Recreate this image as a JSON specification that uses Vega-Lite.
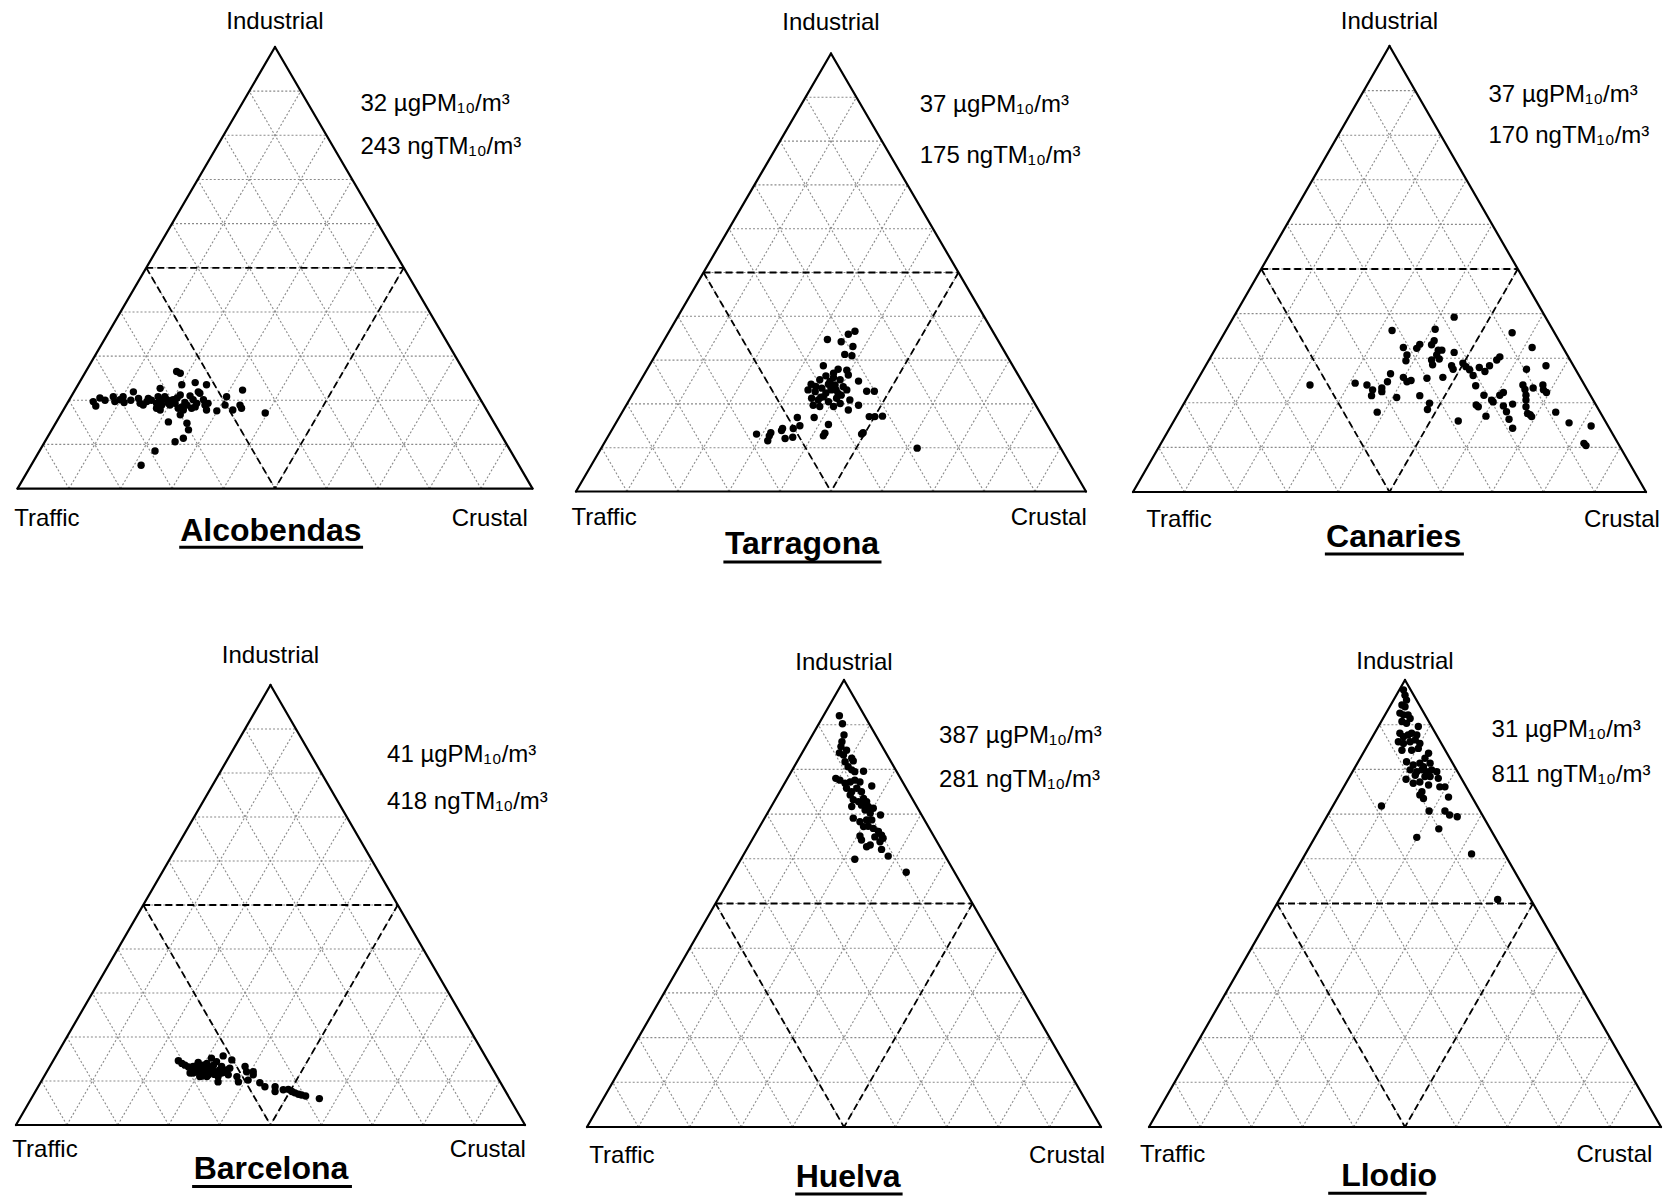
{
"$schema":"https://vega.github.io/schema/vega-lite/v6.json",
"padding":0,
"config":{"view":{"stroke":null},"font":"Liberation Sans","circle":{"size":55,"color":"black","opacity":1}},
"datasets":{
"grid":[
{"x":0.05,"y":0.1,"x2":0.95,"y2":0.1},{"x":0.1,"y":0.2,"x2":0.9,"y2":0.2},{"x":0.15,"y":0.3,"x2":0.85,"y2":0.3},{"x":0.2,"y":0.4,"x2":0.8,"y2":0.4},{"x":0.25,"y":0.5,"x2":0.75,"y2":0.5},{"x":0.3,"y":0.6,"x2":0.7,"y2":0.6},{"x":0.35,"y":0.7,"x2":0.65,"y2":0.7},{"x":0.4,"y":0.8,"x2":0.6,"y2":0.8},{"x":0.45,"y":0.9,"x2":0.55,"y2":0.9},
{"x":0.1,"y":0,"x2":0.55,"y2":0.9},{"x":0.2,"y":0,"x2":0.6,"y2":0.8},{"x":0.3,"y":0,"x2":0.65,"y2":0.7},{"x":0.4,"y":0,"x2":0.7,"y2":0.6},{"x":0.5,"y":0,"x2":0.75,"y2":0.5},{"x":0.6,"y":0,"x2":0.8,"y2":0.4},{"x":0.7,"y":0,"x2":0.85,"y2":0.3},{"x":0.8,"y":0,"x2":0.9,"y2":0.2},{"x":0.9,"y":0,"x2":0.95,"y2":0.1},
{"x":0.1,"y":0,"x2":0.05,"y2":0.1},{"x":0.2,"y":0,"x2":0.1,"y2":0.2},{"x":0.3,"y":0,"x2":0.15,"y2":0.3},{"x":0.4,"y":0,"x2":0.2,"y2":0.4},{"x":0.5,"y":0,"x2":0.25,"y2":0.5},{"x":0.6,"y":0,"x2":0.3,"y2":0.6},{"x":0.7,"y":0,"x2":0.35,"y2":0.7},{"x":0.8,"y":0,"x2":0.4,"y2":0.8},{"x":0.9,"y":0,"x2":0.45,"y2":0.9}
],
"inner":[{"x":0.25,"y":0.5,"x2":0.75,"y2":0.5},{"x":0.25,"y":0.5,"x2":0.5,"y2":0},{"x":0.75,"y":0.5,"x2":0.5,"y2":0}],
"outer":[{"x":0,"y":0,"x2":1,"y2":0},{"x":0,"y":0,"x2":0.5,"y2":1},{"x":1,"y":0,"x2":0.5,"y2":1}],
"txt":[
{"site":"Alcobendas","kind":"corner","x":0.5,"y":1.057,"t":"Industrial"},{"site":"Alcobendas","kind":"corner","x":0.057,"y":-0.068,"t":"Traffic"},{"site":"Alcobendas","kind":"corner","x":0.917,"y":-0.068,"t":"Crustal"},
{"site":"Alcobendas","kind":"ann","x":0.666,"y":0.872,"t":"32 µgPM₁₀/m³"},{"site":"Alcobendas","kind":"ann","x":0.666,"y":0.773,"t":"243 ngTM₁₀/m³"},{"site":"Alcobendas","kind":"title","x":0.492,"y":-0.096,"t":"Alcobendas"},
{"site":"Tarragona","kind":"corner","x":0.5,"y":1.07,"t":"Industrial"},{"site":"Tarragona","kind":"corner","x":0.055,"y":-0.06,"t":"Traffic"},{"site":"Tarragona","kind":"corner","x":0.927,"y":-0.06,"t":"Crustal"},
{"site":"Tarragona","kind":"ann","x":0.674,"y":0.883,"t":"37 µgPM₁₀/m³"},{"site":"Tarragona","kind":"ann","x":0.674,"y":0.767,"t":"175 ngTM₁₀/m³"},{"site":"Tarragona","kind":"title","x":0.443,"y":-0.12,"t":"Tarragona"},
{"site":"Canaries","kind":"corner","x":0.5,"y":1.053,"t":"Industrial"},{"site":"Canaries","kind":"corner","x":0.0897,"y":-0.062,"t":"Traffic"},{"site":"Canaries","kind":"corner","x":0.953,"y":-0.062,"t":"Crustal"},
{"site":"Canaries","kind":"ann","x":0.693,"y":0.89,"t":"37 µgPM₁₀/m³"},{"site":"Canaries","kind":"ann","x":0.693,"y":0.799,"t":"170 ngTM₁₀/m³"},{"site":"Canaries","kind":"title","x":0.508,"y":-0.1,"t":"Canaries"},
{"site":"Barcelona","kind":"corner","x":0.5,"y":1.066,"t":"Industrial"},{"site":"Barcelona","kind":"corner","x":0.057,"y":-0.057,"t":"Traffic"},{"site":"Barcelona","kind":"corner","x":0.927,"y":-0.057,"t":"Crustal"},
{"site":"Barcelona","kind":"ann","x":0.729,"y":0.842,"t":"41 µgPM₁₀/m³"},{"site":"Barcelona","kind":"ann","x":0.729,"y":0.734,"t":"418 ngTM₁₀/m³"},{"site":"Barcelona","kind":"title","x":0.501,"y":-0.101,"t":"Barcelona"},
{"site":"Huelva","kind":"corner","x":0.5,"y":1.039,"t":"Industrial"},{"site":"Huelva","kind":"corner","x":0.068,"y":-0.064,"t":"Traffic"},{"site":"Huelva","kind":"corner","x":0.934,"y":-0.064,"t":"Crustal"},
{"site":"Huelva","kind":"ann","x":0.685,"y":0.874,"t":"387 µgPM₁₀/m³"},{"site":"Huelva","kind":"ann","x":0.685,"y":0.776,"t":"281 ngTM₁₀/m³"},{"site":"Huelva","kind":"title","x":0.508,"y":-0.112,"t":"Huelva"},
{"site":"Llodio","kind":"corner","x":0.5,"y":1.04,"t":"Industrial"},{"site":"Llodio","kind":"corner","x":0.046,"y":-0.062,"t":"Traffic"},{"site":"Llodio","kind":"corner","x":0.909,"y":-0.062,"t":"Crustal"},
{"site":"Llodio","kind":"ann","x":0.669,"y":0.889,"t":"31 µgPM₁₀/m³"},{"site":"Llodio","kind":"ann","x":0.669,"y":0.788,"t":"811 ngTM₁₀/m³"},{"site":"Llodio","kind":"title","x":0.469,"y":-0.11,"t":"Llodio"}
],
"uline":[
{"site":"Alcobendas","x":0.314,"x2":0.671,"y":-0.133},{"site":"Tarragona","x":0.289,"x2":0.599,"y":-0.161},{"site":"Canaries","x":0.374,"x2":0.645,"y":-0.139},
{"site":"Barcelona","x":0.346,"x2":0.66,"y":-0.14},{"site":"Huelva","x":0.405,"x2":0.614,"y":-0.15},{"site":"Llodio","x":0.35,"x2":0.542,"y":-0.148}
],
"pts":[
{"site":"Alcobendas","x":0.147,"y":0.197},{"site":"Alcobendas","x":0.152,"y":0.187},{"site":"Alcobendas","x":0.186,"y":0.208},{"site":"Alcobendas","x":0.189,"y":0.197},{"site":"Alcobendas","x":0.199,"y":0.201},{"site":"Alcobendas","x":0.205,"y":0.208},{"site":"Alcobendas","x":0.207,"y":0.195},{"site":"Alcobendas","x":0.225,"y":0.219},{"site":"Alcobendas","x":0.235,"y":0.204},{"site":"Alcobendas","x":0.238,"y":0.193},{"site":"Alcobendas","x":0.244,"y":0.189},{"site":"Alcobendas","x":0.251,"y":0.197},{"site":"Alcobendas","x":0.254,"y":0.204},{"site":"Alcobendas","x":0.277,"y":0.227},{"site":"Alcobendas","x":0.273,"y":0.208},{"site":"Alcobendas","x":0.27,"y":0.193},{"site":"Alcobendas","x":0.28,"y":0.189},{"site":"Alcobendas","x":0.309,"y":0.265},{"site":"Alcobendas","x":0.316,"y":0.261},{"site":"Alcobendas","x":0.319,"y":0.235},{"site":"Alcobendas","x":0.316,"y":0.212},{"site":"Alcobendas","x":0.303,"y":0.201},{"site":"Alcobendas","x":0.296,"y":0.189},{"site":"Alcobendas","x":0.293,"y":0.151},{"site":"Alcobendas","x":0.306,"y":0.106},{"site":"Alcobendas","x":0.322,"y":0.114},{"site":"Alcobendas","x":0.332,"y":0.133},{"site":"Alcobendas","x":0.329,"y":0.148},{"site":"Alcobendas","x":0.316,"y":0.167},{"site":"Alcobendas","x":0.322,"y":0.178},{"site":"Alcobendas","x":0.329,"y":0.189},{"site":"Alcobendas","x":0.338,"y":0.182},{"site":"Alcobendas","x":0.345,"y":0.185},{"site":"Alcobendas","x":0.286,"y":0.208},{"site":"Alcobendas","x":0.29,"y":0.201},{"site":"Alcobendas","x":0.293,"y":0.193},{"site":"Alcobendas","x":0.306,"y":0.193},{"site":"Alcobendas","x":0.312,"y":0.182},{"site":"Alcobendas","x":0.319,"y":0.185},{"site":"Alcobendas","x":0.345,"y":0.24},{"site":"Alcobendas","x":0.351,"y":0.219},{"site":"Alcobendas","x":0.354,"y":0.216},{"site":"Alcobendas","x":0.367,"y":0.235},{"site":"Alcobendas","x":0.361,"y":0.201},{"site":"Alcobendas","x":0.364,"y":0.189},{"site":"Alcobendas","x":0.37,"y":0.193},{"site":"Alcobendas","x":0.367,"y":0.178},{"site":"Alcobendas","x":0.387,"y":0.176},{"site":"Alcobendas","x":0.406,"y":0.208},{"site":"Alcobendas","x":0.403,"y":0.189},{"site":"Alcobendas","x":0.418,"y":0.178},{"site":"Alcobendas","x":0.435,"y":0.182},{"site":"Alcobendas","x":0.432,"y":0.189},{"site":"Alcobendas","x":0.437,"y":0.223},{"site":"Alcobendas","x":0.481,"y":0.171},{"site":"Alcobendas","x":0.267,"y":0.085},{"site":"Alcobendas","x":0.24,"y":0.053},{"site":"Alcobendas","x":0.341,"y":0.201},{"site":"Alcobendas","x":0.348,"y":0.193},{"site":"Alcobendas","x":0.27,"y":0.182},{"site":"Alcobendas","x":0.277,"y":0.178},{"site":"Alcobendas","x":0.3,"y":0.2},{"site":"Alcobendas","x":0.31,"y":0.205},{"site":"Alcobendas","x":0.325,"y":0.195},{"site":"Alcobendas","x":0.335,"y":0.21},{"site":"Alcobendas","x":0.28,"y":0.2},{"site":"Alcobendas","x":0.26,"y":0.2},{"site":"Alcobendas","x":0.22,"y":0.2},{"site":"Alcobendas","x":0.17,"y":0.2},{"site":"Alcobendas","x":0.16,"y":0.205},
{"site":"Tarragona","x":0.493,"y":0.347},{"site":"Tarragona","x":0.52,"y":0.342},{"site":"Tarragona","x":0.534,"y":0.359},{"site":"Tarragona","x":0.547,"y":0.366},{"site":"Tarragona","x":0.543,"y":0.331},{"site":"Tarragona","x":0.527,"y":0.313},{"site":"Tarragona","x":0.541,"y":0.31},{"site":"Tarragona","x":0.485,"y":0.287},{"site":"Tarragona","x":0.514,"y":0.279},{"site":"Tarragona","x":0.531,"y":0.277},{"site":"Tarragona","x":0.534,"y":0.266},{"site":"Tarragona","x":0.554,"y":0.252},{"site":"Tarragona","x":0.461,"y":0.245},{"site":"Tarragona","x":0.478,"y":0.255},{"site":"Tarragona","x":0.49,"y":0.264},{"site":"Tarragona","x":0.505,"y":0.27},{"site":"Tarragona","x":0.498,"y":0.251},{"site":"Tarragona","x":0.508,"y":0.243},{"site":"Tarragona","x":0.518,"y":0.255},{"site":"Tarragona","x":0.524,"y":0.239},{"site":"Tarragona","x":0.531,"y":0.232},{"site":"Tarragona","x":0.455,"y":0.232},{"site":"Tarragona","x":0.469,"y":0.228},{"site":"Tarragona","x":0.482,"y":0.236},{"site":"Tarragona","x":0.501,"y":0.232},{"site":"Tarragona","x":0.514,"y":0.224},{"site":"Tarragona","x":0.511,"y":0.213},{"site":"Tarragona","x":0.518,"y":0.201},{"site":"Tarragona","x":0.462,"y":0.213},{"site":"Tarragona","x":0.475,"y":0.209},{"site":"Tarragona","x":0.485,"y":0.216},{"site":"Tarragona","x":0.495,"y":0.205},{"site":"Tarragona","x":0.505,"y":0.194},{"site":"Tarragona","x":0.534,"y":0.186},{"site":"Tarragona","x":0.554,"y":0.197},{"site":"Tarragona","x":0.57,"y":0.229},{"site":"Tarragona","x":0.585,"y":0.229},{"site":"Tarragona","x":0.465,"y":0.197},{"site":"Tarragona","x":0.478,"y":0.194},{"site":"Tarragona","x":0.537,"y":0.209},{"site":"Tarragona","x":0.467,"y":0.169},{"site":"Tarragona","x":0.495,"y":0.153},{"site":"Tarragona","x":0.488,"y":0.133},{"site":"Tarragona","x":0.485,"y":0.127},{"site":"Tarragona","x":0.434,"y":0.169},{"site":"Tarragona","x":0.439,"y":0.15},{"site":"Tarragona","x":0.426,"y":0.144},{"site":"Tarragona","x":0.405,"y":0.144},{"site":"Tarragona","x":0.403,"y":0.139},{"site":"Tarragona","x":0.41,"y":0.121},{"site":"Tarragona","x":0.425,"y":0.124},{"site":"Tarragona","x":0.382,"y":0.134},{"site":"Tarragona","x":0.379,"y":0.127},{"site":"Tarragona","x":0.376,"y":0.116},{"site":"Tarragona","x":0.354,"y":0.131},{"site":"Tarragona","x":0.575,"y":0.171},{"site":"Tarragona","x":0.586,"y":0.171},{"site":"Tarragona","x":0.601,"y":0.172},{"site":"Tarragona","x":0.563,"y":0.134},{"site":"Tarragona","x":0.56,"y":0.131},{"site":"Tarragona","x":0.669,"y":0.099},{"site":"Tarragona","x":0.5,"y":0.235},{"site":"Tarragona","x":0.49,"y":0.225},{"site":"Tarragona","x":0.52,"y":0.22},{"site":"Tarragona","x":0.505,"y":0.26},{"site":"Tarragona","x":0.47,"y":0.24},{"site":"Tarragona","x":0.495,"y":0.245},{"site":"Tarragona","x":0.51,"y":0.232},{"site":"Tarragona","x":0.48,"y":0.215},
{"site":"Canaries","x":0.345,"y":0.24},{"site":"Canaries","x":0.433,"y":0.244},{"site":"Canaries","x":0.456,"y":0.24},{"site":"Canaries","x":0.467,"y":0.229},{"site":"Canaries","x":0.465,"y":0.216},{"site":"Canaries","x":0.485,"y":0.233},{"site":"Canaries","x":0.485,"y":0.225},{"site":"Canaries","x":0.496,"y":0.247},{"site":"Canaries","x":0.502,"y":0.265},{"site":"Canaries","x":0.514,"y":0.212},{"site":"Canaries","x":0.476,"y":0.179},{"site":"Canaries","x":0.505,"y":0.362},{"site":"Canaries","x":0.527,"y":0.324},{"site":"Canaries","x":0.534,"y":0.307},{"site":"Canaries","x":0.532,"y":0.294},{"site":"Canaries","x":0.527,"y":0.257},{"site":"Canaries","x":0.534,"y":0.247},{"site":"Canaries","x":0.542,"y":0.25},{"site":"Canaries","x":0.553,"y":0.322},{"site":"Canaries","x":0.559,"y":0.331},{"site":"Canaries","x":0.582,"y":0.33},{"site":"Canaries","x":0.587,"y":0.339},{"site":"Canaries","x":0.589,"y":0.365},{"site":"Canaries","x":0.595,"y":0.318},{"site":"Canaries","x":0.602,"y":0.318},{"site":"Canaries","x":0.592,"y":0.307},{"site":"Canaries","x":0.582,"y":0.296},{"site":"Canaries","x":0.584,"y":0.285},{"site":"Canaries","x":0.597,"y":0.298},{"site":"Canaries","x":0.573,"y":0.255},{"site":"Canaries","x":0.559,"y":0.216},{"site":"Canaries","x":0.578,"y":0.199},{"site":"Canaries","x":0.574,"y":0.185},{"site":"Canaries","x":0.604,"y":0.257},{"site":"Canaries","x":0.626,"y":0.392},{"site":"Canaries","x":0.626,"y":0.313},{"site":"Canaries","x":0.621,"y":0.283},{"site":"Canaries","x":0.624,"y":0.275},{"site":"Canaries","x":0.634,"y":0.159},{"site":"Canaries","x":0.643,"y":0.289},{"site":"Canaries","x":0.649,"y":0.281},{"site":"Canaries","x":0.656,"y":0.274},{"site":"Canaries","x":0.663,"y":0.261},{"site":"Canaries","x":0.668,"y":0.238},{"site":"Canaries","x":0.675,"y":0.279},{"site":"Canaries","x":0.686,"y":0.27},{"site":"Canaries","x":0.695,"y":0.283},{"site":"Canaries","x":0.709,"y":0.296},{"site":"Canaries","x":0.715,"y":0.303},{"site":"Canaries","x":0.684,"y":0.217},{"site":"Canaries","x":0.669,"y":0.195},{"site":"Canaries","x":0.673,"y":0.191},{"site":"Canaries","x":0.688,"y":0.17},{"site":"Canaries","x":0.699,"y":0.206},{"site":"Canaries","x":0.702,"y":0.202},{"site":"Canaries","x":0.715,"y":0.217},{"site":"Canaries","x":0.722,"y":0.223},{"site":"Canaries","x":0.722,"y":0.193},{"site":"Canaries","x":0.728,"y":0.18},{"site":"Canaries","x":0.733,"y":0.163},{"site":"Canaries","x":0.74,"y":0.143},{"site":"Canaries","x":0.74,"y":0.197},{"site":"Canaries","x":0.739,"y":0.357},{"site":"Canaries","x":0.778,"y":0.324},{"site":"Canaries","x":0.767,"y":0.275},{"site":"Canaries","x":0.805,"y":0.283},{"site":"Canaries","x":0.76,"y":0.24},{"site":"Canaries","x":0.764,"y":0.23},{"site":"Canaries","x":0.766,"y":0.217},{"site":"Canaries","x":0.766,"y":0.206},{"site":"Canaries","x":0.766,"y":0.191},{"site":"Canaries","x":0.769,"y":0.176},{"site":"Canaries","x":0.774,"y":0.173},{"site":"Canaries","x":0.777,"y":0.169},{"site":"Canaries","x":0.78,"y":0.233},{"site":"Canaries","x":0.799,"y":0.24},{"site":"Canaries","x":0.8,"y":0.229},{"site":"Canaries","x":0.806,"y":0.223},{"site":"Canaries","x":0.824,"y":0.179},{"site":"Canaries","x":0.85,"y":0.155},{"site":"Canaries","x":0.893,"y":0.148},{"site":"Canaries","x":0.879,"y":0.109},{"site":"Canaries","x":0.883,"y":0.104},
{"site":"Barcelona","x":0.319,"y":0.146},{"site":"Barcelona","x":0.326,"y":0.14},{"site":"Barcelona","x":0.332,"y":0.136},{"site":"Barcelona","x":0.339,"y":0.132},{"site":"Barcelona","x":0.345,"y":0.125},{"site":"Barcelona","x":0.348,"y":0.118},{"site":"Barcelona","x":0.355,"y":0.121},{"site":"Barcelona","x":0.361,"y":0.129},{"site":"Barcelona","x":0.358,"y":0.142},{"site":"Barcelona","x":0.368,"y":0.136},{"site":"Barcelona","x":0.371,"y":0.121},{"site":"Barcelona","x":0.365,"y":0.111},{"site":"Barcelona","x":0.378,"y":0.114},{"site":"Barcelona","x":0.381,"y":0.129},{"site":"Barcelona","x":0.384,"y":0.152},{"site":"Barcelona","x":0.388,"y":0.136},{"site":"Barcelona","x":0.391,"y":0.121},{"site":"Barcelona","x":0.397,"y":0.11},{"site":"Barcelona","x":0.397,"y":0.098},{"site":"Barcelona","x":0.404,"y":0.118},{"site":"Barcelona","x":0.407,"y":0.157},{"site":"Barcelona","x":0.404,"y":0.133},{"site":"Barcelona","x":0.414,"y":0.125},{"site":"Barcelona","x":0.417,"y":0.114},{"site":"Barcelona","x":0.424,"y":0.148},{"site":"Barcelona","x":0.42,"y":0.129},{"site":"Barcelona","x":0.375,"y":0.11},{"site":"Barcelona","x":0.348,"y":0.133},{"site":"Barcelona","x":0.342,"y":0.118},{"site":"Barcelona","x":0.361,"y":0.11},{"site":"Barcelona","x":0.394,"y":0.144},{"site":"Barcelona","x":0.434,"y":0.11},{"site":"Barcelona","x":0.437,"y":0.098},{"site":"Barcelona","x":0.45,"y":0.133},{"site":"Barcelona","x":0.453,"y":0.121},{"site":"Barcelona","x":0.456,"y":0.102},{"site":"Barcelona","x":0.466,"y":0.114},{"site":"Barcelona","x":0.466,"y":0.121},{"site":"Barcelona","x":0.479,"y":0.096},{"site":"Barcelona","x":0.489,"y":0.087},{"site":"Barcelona","x":0.509,"y":0.087},{"site":"Barcelona","x":0.509,"y":0.076},{"site":"Barcelona","x":0.525,"y":0.08},{"site":"Barcelona","x":0.535,"y":0.081},{"site":"Barcelona","x":0.542,"y":0.076},{"site":"Barcelona","x":0.548,"y":0.073},{"site":"Barcelona","x":0.555,"y":0.07},{"site":"Barcelona","x":0.561,"y":0.068},{"site":"Barcelona","x":0.569,"y":0.066},{"site":"Barcelona","x":0.596,"y":0.06},{"site":"Barcelona","x":0.35,"y":0.13},{"site":"Barcelona","x":0.37,"y":0.13},{"site":"Barcelona","x":0.385,"y":0.125},{"site":"Barcelona","x":0.4,"y":0.125},{"site":"Barcelona","x":0.36,"y":0.12},{"site":"Barcelona","x":0.375,"y":0.14},{"site":"Barcelona","x":0.39,"y":0.115},{"site":"Barcelona","x":0.41,"y":0.12},{"site":"Barcelona","x":0.355,"y":0.135},{"site":"Barcelona","x":0.38,"y":0.118},
{"site":"Huelva","x":0.491,"y":0.92},{"site":"Huelva","x":0.497,"y":0.902},{"site":"Huelva","x":0.5,"y":0.877},{"site":"Huelva","x":0.496,"y":0.862},{"site":"Huelva","x":0.494,"y":0.851},{"site":"Huelva","x":0.491,"y":0.837},{"site":"Huelva","x":0.499,"y":0.832},{"site":"Huelva","x":0.505,"y":0.843},{"site":"Huelva","x":0.502,"y":0.817},{"site":"Huelva","x":0.515,"y":0.825},{"site":"Huelva","x":0.518,"y":0.819},{"site":"Huelva","x":0.508,"y":0.806},{"site":"Huelva","x":0.515,"y":0.799},{"site":"Huelva","x":0.521,"y":0.795},{"site":"Huelva","x":0.538,"y":0.796},{"site":"Huelva","x":0.484,"y":0.78},{"site":"Huelva","x":0.492,"y":0.776},{"site":"Huelva","x":0.502,"y":0.769},{"site":"Huelva","x":0.512,"y":0.772},{"site":"Huelva","x":0.521,"y":0.776},{"site":"Huelva","x":0.531,"y":0.772},{"site":"Huelva","x":0.554,"y":0.763},{"site":"Huelva","x":0.505,"y":0.758},{"site":"Huelva","x":0.515,"y":0.75},{"site":"Huelva","x":0.525,"y":0.758},{"site":"Huelva","x":0.512,"y":0.743},{"site":"Huelva","x":0.534,"y":0.75},{"site":"Huelva","x":0.538,"y":0.735},{"site":"Huelva","x":0.518,"y":0.732},{"site":"Huelva","x":0.528,"y":0.728},{"site":"Huelva","x":0.544,"y":0.728},{"site":"Huelva","x":0.534,"y":0.72},{"site":"Huelva","x":0.547,"y":0.717},{"site":"Huelva","x":0.515,"y":0.717},{"site":"Huelva","x":0.557,"y":0.713},{"site":"Huelva","x":0.541,"y":0.709},{"site":"Huelva","x":0.551,"y":0.702},{"site":"Huelva","x":0.571,"y":0.698},{"site":"Huelva","x":0.518,"y":0.691},{"site":"Huelva","x":0.531,"y":0.683},{"site":"Huelva","x":0.544,"y":0.687},{"site":"Huelva","x":0.554,"y":0.687},{"site":"Huelva","x":0.547,"y":0.673},{"site":"Huelva","x":0.557,"y":0.668},{"site":"Huelva","x":0.538,"y":0.672},{"site":"Huelva","x":0.531,"y":0.651},{"site":"Huelva","x":0.534,"y":0.642},{"site":"Huelva","x":0.544,"y":0.627},{"site":"Huelva","x":0.551,"y":0.631},{"site":"Huelva","x":0.56,"y":0.649},{"site":"Huelva","x":0.567,"y":0.661},{"site":"Huelva","x":0.573,"y":0.653},{"site":"Huelva","x":0.576,"y":0.646},{"site":"Huelva","x":0.57,"y":0.638},{"site":"Huelva","x":0.573,"y":0.621},{"site":"Huelva","x":0.586,"y":0.606},{"site":"Huelva","x":0.521,"y":0.599},{"site":"Huelva","x":0.621,"y":0.57},
{"site":"Llodio","x":0.497,"y":0.978},{"site":"Llodio","x":0.5,"y":0.966},{"site":"Llodio","x":0.503,"y":0.955},{"site":"Llodio","x":0.494,"y":0.944},{"site":"Llodio","x":0.5,"y":0.94},{"site":"Llodio","x":0.49,"y":0.926},{"site":"Llodio","x":0.497,"y":0.922},{"site":"Llodio","x":0.506,"y":0.922},{"site":"Llodio","x":0.51,"y":0.914},{"site":"Llodio","x":0.494,"y":0.907},{"site":"Llodio","x":0.503,"y":0.903},{"site":"Llodio","x":0.526,"y":0.896},{"site":"Llodio","x":0.49,"y":0.881},{"site":"Llodio","x":0.497,"y":0.873},{"site":"Llodio","x":0.506,"y":0.877},{"site":"Llodio","x":0.513,"y":0.881},{"site":"Llodio","x":0.523,"y":0.877},{"site":"Llodio","x":0.487,"y":0.862},{"site":"Llodio","x":0.497,"y":0.858},{"site":"Llodio","x":0.51,"y":0.862},{"site":"Llodio","x":0.52,"y":0.866},{"site":"Llodio","x":0.529,"y":0.858},{"site":"Llodio","x":0.494,"y":0.843},{"site":"Llodio","x":0.513,"y":0.843},{"site":"Llodio","x":0.526,"y":0.847},{"site":"Llodio","x":0.546,"y":0.836},{"site":"Llodio","x":0.539,"y":0.825},{"site":"Llodio","x":0.503,"y":0.817},{"site":"Llodio","x":0.516,"y":0.81},{"site":"Llodio","x":0.529,"y":0.814},{"site":"Llodio","x":0.536,"y":0.806},{"site":"Llodio","x":0.549,"y":0.814},{"site":"Llodio","x":0.51,"y":0.799},{"site":"Llodio","x":0.523,"y":0.795},{"site":"Llodio","x":0.533,"y":0.799},{"site":"Llodio","x":0.542,"y":0.795},{"site":"Llodio","x":0.552,"y":0.799},{"site":"Llodio","x":0.562,"y":0.795},{"site":"Llodio","x":0.52,"y":0.787},{"site":"Llodio","x":0.539,"y":0.784},{"site":"Llodio","x":0.549,"y":0.784},{"site":"Llodio","x":0.565,"y":0.78},{"site":"Llodio","x":0.502,"y":0.778},{"site":"Llodio","x":0.516,"y":0.769},{"site":"Llodio","x":0.529,"y":0.772},{"site":"Llodio","x":0.546,"y":0.765},{"site":"Llodio","x":0.568,"y":0.761},{"site":"Llodio","x":0.578,"y":0.761},{"site":"Llodio","x":0.533,"y":0.75},{"site":"Llodio","x":0.529,"y":0.743},{"site":"Llodio","x":0.536,"y":0.735},{"site":"Llodio","x":0.585,"y":0.738},{"site":"Llodio","x":0.454,"y":0.718},{"site":"Llodio","x":0.547,"y":0.707},{"site":"Llodio","x":0.578,"y":0.707},{"site":"Llodio","x":0.587,"y":0.698},{"site":"Llodio","x":0.602,"y":0.694},{"site":"Llodio","x":0.566,"y":0.667},{"site":"Llodio","x":0.523,"y":0.648},{"site":"Llodio","x":0.63,"y":0.611},{"site":"Llodio","x":0.681,"y":0.509}
]
},
"columns":3,
"spacing":0,
"bounds":"flush",
"concat":[
{"width":558,"height":600,"layer":[
{"data":{"name":"grid"},"mark":{"type":"rule","color":"#8a8a8a","strokeWidth":1.1,"strokeDash":[2,2]},"encoding":{"x":{"field":"x","type":"quantitative","scale":{"domain":[-0.034,1.0495],"nice":false,"zero":false},"axis":null},"y":{"field":"y","type":"quantitative","scale":{"domain":[-0.2523,1.1064],"nice":false,"zero":false},"axis":null},"x2":{"field":"x2"},"y2":{"field":"y2"}}},
{"data":{"name":"inner"},"mark":{"type":"rule","color":"black","strokeWidth":1.8,"strokeDash":[7,4]},"encoding":{"x":{"field":"x","type":"quantitative","scale":{"domain":[-0.034,1.0495],"nice":false,"zero":false},"axis":null},"y":{"field":"y","type":"quantitative","scale":{"domain":[-0.2523,1.1064],"nice":false,"zero":false},"axis":null},"x2":{"field":"x2"},"y2":{"field":"y2"}}},
{"data":{"name":"outer"},"mark":{"type":"rule","color":"black","strokeWidth":2.2,"strokeCap":"round"},"encoding":{"x":{"field":"x","type":"quantitative","scale":{"domain":[-0.034,1.0495],"nice":false,"zero":false},"axis":null},"y":{"field":"y","type":"quantitative","scale":{"domain":[-0.2523,1.1064],"nice":false,"zero":false},"axis":null},"x2":{"field":"x2"},"y2":{"field":"y2"}}},
{"data":{"name":"pts"},"transform":[{"filter":"datum.site==='Alcobendas'"}],"mark":{"type":"circle"},"encoding":{"x":{"field":"x","type":"quantitative","scale":{"domain":[-0.034,1.0495],"nice":false,"zero":false},"axis":null},"y":{"field":"y","type":"quantitative","scale":{"domain":[-0.2523,1.1064],"nice":false,"zero":false},"axis":null}}},
{"data":{"name":"txt"},"transform":[{"filter":"datum.site==='Alcobendas' && datum.kind==='corner'"}],"mark":{"type":"text","fontSize":24,"baseline":"middle","align":"center"},"encoding":{"x":{"field":"x","type":"quantitative","scale":{"domain":[-0.034,1.0495],"nice":false,"zero":false},"axis":null},"y":{"field":"y","type":"quantitative","scale":{"domain":[-0.2523,1.1064],"nice":false,"zero":false},"axis":null},"text":{"field":"t"}}},
{"data":{"name":"txt"},"transform":[{"filter":"datum.site==='Alcobendas' && datum.kind==='ann'"}],"mark":{"type":"text","fontSize":24,"baseline":"middle","align":"left"},"encoding":{"x":{"field":"x","type":"quantitative","scale":{"domain":[-0.034,1.0495],"nice":false,"zero":false},"axis":null},"y":{"field":"y","type":"quantitative","scale":{"domain":[-0.2523,1.1064],"nice":false,"zero":false},"axis":null},"text":{"field":"t"}}},
{"data":{"name":"txt"},"transform":[{"filter":"datum.site==='Alcobendas' && datum.kind==='title'"}],"mark":{"type":"text","fontSize":32,"fontWeight":"bold","baseline":"middle","align":"center"},"encoding":{"x":{"field":"x","type":"quantitative","scale":{"domain":[-0.034,1.0495],"nice":false,"zero":false},"axis":null},"y":{"field":"y","type":"quantitative","scale":{"domain":[-0.2523,1.1064],"nice":false,"zero":false},"axis":null},"text":{"field":"t"}}},
{"data":{"name":"uline"},"transform":[{"filter":"datum.site==='Alcobendas'"}],"mark":{"type":"rule","color":"black","strokeWidth":3},"encoding":{"x":{"field":"x","type":"quantitative","scale":{"domain":[-0.034,1.0495],"nice":false,"zero":false},"axis":null},"y":{"field":"y","type":"quantitative","scale":{"domain":[-0.2523,1.1064],"nice":false,"zero":false},"axis":null},"x2":{"field":"x2"}}}
]},
{"width":557,"height":600,"layer":[
{"data":{"name":"grid"},"mark":{"type":"rule","color":"#8a8a8a","strokeWidth":1.1,"strokeDash":[2,2]},"encoding":{"x":{"field":"x","type":"quantitative","scale":{"domain":[-0.0353,1.0569],"nice":false,"zero":false},"axis":null},"y":{"field":"y","type":"quantitative","scale":{"domain":[-0.2477,1.1221],"nice":false,"zero":false},"axis":null},"x2":{"field":"x2"},"y2":{"field":"y2"}}},
{"data":{"name":"inner"},"mark":{"type":"rule","color":"black","strokeWidth":1.8,"strokeDash":[7,4]},"encoding":{"x":{"field":"x","type":"quantitative","scale":{"domain":[-0.0353,1.0569],"nice":false,"zero":false},"axis":null},"y":{"field":"y","type":"quantitative","scale":{"domain":[-0.2477,1.1221],"nice":false,"zero":false},"axis":null},"x2":{"field":"x2"},"y2":{"field":"y2"}}},
{"data":{"name":"outer"},"mark":{"type":"rule","color":"black","strokeWidth":2.2,"strokeCap":"round"},"encoding":{"x":{"field":"x","type":"quantitative","scale":{"domain":[-0.0353,1.0569],"nice":false,"zero":false},"axis":null},"y":{"field":"y","type":"quantitative","scale":{"domain":[-0.2477,1.1221],"nice":false,"zero":false},"axis":null},"x2":{"field":"x2"},"y2":{"field":"y2"}}},
{"data":{"name":"pts"},"transform":[{"filter":"datum.site==='Tarragona'"}],"mark":{"type":"circle"},"encoding":{"x":{"field":"x","type":"quantitative","scale":{"domain":[-0.0353,1.0569],"nice":false,"zero":false},"axis":null},"y":{"field":"y","type":"quantitative","scale":{"domain":[-0.2477,1.1221],"nice":false,"zero":false},"axis":null}}},
{"data":{"name":"txt"},"transform":[{"filter":"datum.site==='Tarragona' && datum.kind==='corner'"}],"mark":{"type":"text","fontSize":24,"baseline":"middle","align":"center"},"encoding":{"x":{"field":"x","type":"quantitative","scale":{"domain":[-0.0353,1.0569],"nice":false,"zero":false},"axis":null},"y":{"field":"y","type":"quantitative","scale":{"domain":[-0.2477,1.1221],"nice":false,"zero":false},"axis":null},"text":{"field":"t"}}},
{"data":{"name":"txt"},"transform":[{"filter":"datum.site==='Tarragona' && datum.kind==='ann'"}],"mark":{"type":"text","fontSize":24,"baseline":"middle","align":"left"},"encoding":{"x":{"field":"x","type":"quantitative","scale":{"domain":[-0.0353,1.0569],"nice":false,"zero":false},"axis":null},"y":{"field":"y","type":"quantitative","scale":{"domain":[-0.2477,1.1221],"nice":false,"zero":false},"axis":null},"text":{"field":"t"}}},
{"data":{"name":"txt"},"transform":[{"filter":"datum.site==='Tarragona' && datum.kind==='title'"}],"mark":{"type":"text","fontSize":32,"fontWeight":"bold","baseline":"middle","align":"center"},"encoding":{"x":{"field":"x","type":"quantitative","scale":{"domain":[-0.0353,1.0569],"nice":false,"zero":false},"axis":null},"y":{"field":"y","type":"quantitative","scale":{"domain":[-0.2477,1.1221],"nice":false,"zero":false},"axis":null},"text":{"field":"t"}}},
{"data":{"name":"uline"},"transform":[{"filter":"datum.site==='Tarragona'"}],"mark":{"type":"rule","color":"black","strokeWidth":3},"encoding":{"x":{"field":"x","type":"quantitative","scale":{"domain":[-0.0353,1.0569],"nice":false,"zero":false},"axis":null},"y":{"field":"y","type":"quantitative","scale":{"domain":[-0.2477,1.1221],"nice":false,"zero":false},"axis":null},"x2":{"field":"x2"}}}
]},
{"width":558,"height":600,"layer":[
{"data":{"name":"grid"},"mark":{"type":"rule","color":"#8a8a8a","strokeWidth":1.1,"strokeDash":[2,2]},"encoding":{"x":{"field":"x","type":"quantitative","scale":{"domain":[-0.0351,1.0526],"nice":false,"zero":false},"axis":null},"y":{"field":"y","type":"quantitative","scale":{"domain":[-0.2422,1.1031],"nice":false,"zero":false},"axis":null},"x2":{"field":"x2"},"y2":{"field":"y2"}}},
{"data":{"name":"inner"},"mark":{"type":"rule","color":"black","strokeWidth":1.8,"strokeDash":[7,4]},"encoding":{"x":{"field":"x","type":"quantitative","scale":{"domain":[-0.0351,1.0526],"nice":false,"zero":false},"axis":null},"y":{"field":"y","type":"quantitative","scale":{"domain":[-0.2422,1.1031],"nice":false,"zero":false},"axis":null},"x2":{"field":"x2"},"y2":{"field":"y2"}}},
{"data":{"name":"outer"},"mark":{"type":"rule","color":"black","strokeWidth":2.2,"strokeCap":"round"},"encoding":{"x":{"field":"x","type":"quantitative","scale":{"domain":[-0.0351,1.0526],"nice":false,"zero":false},"axis":null},"y":{"field":"y","type":"quantitative","scale":{"domain":[-0.2422,1.1031],"nice":false,"zero":false},"axis":null},"x2":{"field":"x2"},"y2":{"field":"y2"}}},
{"data":{"name":"pts"},"transform":[{"filter":"datum.site==='Canaries'"}],"mark":{"type":"circle"},"encoding":{"x":{"field":"x","type":"quantitative","scale":{"domain":[-0.0351,1.0526],"nice":false,"zero":false},"axis":null},"y":{"field":"y","type":"quantitative","scale":{"domain":[-0.2422,1.1031],"nice":false,"zero":false},"axis":null}}},
{"data":{"name":"txt"},"transform":[{"filter":"datum.site==='Canaries' && datum.kind==='corner'"}],"mark":{"type":"text","fontSize":24,"baseline":"middle","align":"center"},"encoding":{"x":{"field":"x","type":"quantitative","scale":{"domain":[-0.0351,1.0526],"nice":false,"zero":false},"axis":null},"y":{"field":"y","type":"quantitative","scale":{"domain":[-0.2422,1.1031],"nice":false,"zero":false},"axis":null},"text":{"field":"t"}}},
{"data":{"name":"txt"},"transform":[{"filter":"datum.site==='Canaries' && datum.kind==='ann'"}],"mark":{"type":"text","fontSize":24,"baseline":"middle","align":"left"},"encoding":{"x":{"field":"x","type":"quantitative","scale":{"domain":[-0.0351,1.0526],"nice":false,"zero":false},"axis":null},"y":{"field":"y","type":"quantitative","scale":{"domain":[-0.2422,1.1031],"nice":false,"zero":false},"axis":null},"text":{"field":"t"}}},
{"data":{"name":"txt"},"transform":[{"filter":"datum.site==='Canaries' && datum.kind==='title'"}],"mark":{"type":"text","fontSize":32,"fontWeight":"bold","baseline":"middle","align":"center"},"encoding":{"x":{"field":"x","type":"quantitative","scale":{"domain":[-0.0351,1.0526],"nice":false,"zero":false},"axis":null},"y":{"field":"y","type":"quantitative","scale":{"domain":[-0.2422,1.1031],"nice":false,"zero":false},"axis":null},"text":{"field":"t"}}},
{"data":{"name":"uline"},"transform":[{"filter":"datum.site==='Canaries'"}],"mark":{"type":"rule","color":"black","strokeWidth":3},"encoding":{"x":{"field":"x","type":"quantitative","scale":{"domain":[-0.0351,1.0526],"nice":false,"zero":false},"axis":null},"y":{"field":"y","type":"quantitative","scale":{"domain":[-0.2422,1.1031],"nice":false,"zero":false},"axis":null},"x2":{"field":"x2"}}}
]},
{"width":558,"height":599,"layer":[
{"data":{"name":"grid"},"mark":{"type":"rule","color":"#8a8a8a","strokeWidth":1.1,"strokeDash":[2,2]},"encoding":{"x":{"field":"x","type":"quantitative","scale":{"domain":[-0.0314,1.0648],"nice":false,"zero":false},"axis":null},"y":{"field":"y","type":"quantitative","scale":{"domain":[-0.1682,1.1932],"nice":false,"zero":false},"axis":null},"x2":{"field":"x2"},"y2":{"field":"y2"}}},
{"data":{"name":"inner"},"mark":{"type":"rule","color":"black","strokeWidth":1.8,"strokeDash":[7,4]},"encoding":{"x":{"field":"x","type":"quantitative","scale":{"domain":[-0.0314,1.0648],"nice":false,"zero":false},"axis":null},"y":{"field":"y","type":"quantitative","scale":{"domain":[-0.1682,1.1932],"nice":false,"zero":false},"axis":null},"x2":{"field":"x2"},"y2":{"field":"y2"}}},
{"data":{"name":"outer"},"mark":{"type":"rule","color":"black","strokeWidth":2.2,"strokeCap":"round"},"encoding":{"x":{"field":"x","type":"quantitative","scale":{"domain":[-0.0314,1.0648],"nice":false,"zero":false},"axis":null},"y":{"field":"y","type":"quantitative","scale":{"domain":[-0.1682,1.1932],"nice":false,"zero":false},"axis":null},"x2":{"field":"x2"},"y2":{"field":"y2"}}},
{"data":{"name":"pts"},"transform":[{"filter":"datum.site==='Barcelona'"}],"mark":{"type":"circle"},"encoding":{"x":{"field":"x","type":"quantitative","scale":{"domain":[-0.0314,1.0648],"nice":false,"zero":false},"axis":null},"y":{"field":"y","type":"quantitative","scale":{"domain":[-0.1682,1.1932],"nice":false,"zero":false},"axis":null}}},
{"data":{"name":"txt"},"transform":[{"filter":"datum.site==='Barcelona' && datum.kind==='corner'"}],"mark":{"type":"text","fontSize":24,"baseline":"middle","align":"center"},"encoding":{"x":{"field":"x","type":"quantitative","scale":{"domain":[-0.0314,1.0648],"nice":false,"zero":false},"axis":null},"y":{"field":"y","type":"quantitative","scale":{"domain":[-0.1682,1.1932],"nice":false,"zero":false},"axis":null},"text":{"field":"t"}}},
{"data":{"name":"txt"},"transform":[{"filter":"datum.site==='Barcelona' && datum.kind==='ann'"}],"mark":{"type":"text","fontSize":24,"baseline":"middle","align":"left"},"encoding":{"x":{"field":"x","type":"quantitative","scale":{"domain":[-0.0314,1.0648],"nice":false,"zero":false},"axis":null},"y":{"field":"y","type":"quantitative","scale":{"domain":[-0.1682,1.1932],"nice":false,"zero":false},"axis":null},"text":{"field":"t"}}},
{"data":{"name":"txt"},"transform":[{"filter":"datum.site==='Barcelona' && datum.kind==='title'"}],"mark":{"type":"text","fontSize":32,"fontWeight":"bold","baseline":"middle","align":"center"},"encoding":{"x":{"field":"x","type":"quantitative","scale":{"domain":[-0.0314,1.0648],"nice":false,"zero":false},"axis":null},"y":{"field":"y","type":"quantitative","scale":{"domain":[-0.1682,1.1932],"nice":false,"zero":false},"axis":null},"text":{"field":"t"}}},
{"data":{"name":"uline"},"transform":[{"filter":"datum.site==='Barcelona'"}],"mark":{"type":"rule","color":"black","strokeWidth":3},"encoding":{"x":{"field":"x","type":"quantitative","scale":{"domain":[-0.0314,1.0648],"nice":false,"zero":false},"axis":null},"y":{"field":"y","type":"quantitative","scale":{"domain":[-0.1682,1.1932],"nice":false,"zero":false},"axis":null},"x2":{"field":"x2"}}}
]},
{"width":557,"height":599,"layer":[
{"data":{"name":"grid"},"mark":{"type":"rule","color":"#8a8a8a","strokeWidth":1.1,"strokeDash":[2,2]},"encoding":{"x":{"field":"x","type":"quantitative","scale":{"domain":[-0.0564,1.0272],"nice":false,"zero":false},"axis":null},"y":{"field":"y","type":"quantitative","scale":{"domain":[-0.1611,1.179],"nice":false,"zero":false},"axis":null},"x2":{"field":"x2"},"y2":{"field":"y2"}}},
{"data":{"name":"inner"},"mark":{"type":"rule","color":"black","strokeWidth":1.8,"strokeDash":[7,4]},"encoding":{"x":{"field":"x","type":"quantitative","scale":{"domain":[-0.0564,1.0272],"nice":false,"zero":false},"axis":null},"y":{"field":"y","type":"quantitative","scale":{"domain":[-0.1611,1.179],"nice":false,"zero":false},"axis":null},"x2":{"field":"x2"},"y2":{"field":"y2"}}},
{"data":{"name":"outer"},"mark":{"type":"rule","color":"black","strokeWidth":2.2,"strokeCap":"round"},"encoding":{"x":{"field":"x","type":"quantitative","scale":{"domain":[-0.0564,1.0272],"nice":false,"zero":false},"axis":null},"y":{"field":"y","type":"quantitative","scale":{"domain":[-0.1611,1.179],"nice":false,"zero":false},"axis":null},"x2":{"field":"x2"},"y2":{"field":"y2"}}},
{"data":{"name":"pts"},"transform":[{"filter":"datum.site==='Huelva'"}],"mark":{"type":"circle"},"encoding":{"x":{"field":"x","type":"quantitative","scale":{"domain":[-0.0564,1.0272],"nice":false,"zero":false},"axis":null},"y":{"field":"y","type":"quantitative","scale":{"domain":[-0.1611,1.179],"nice":false,"zero":false},"axis":null}}},
{"data":{"name":"txt"},"transform":[{"filter":"datum.site==='Huelva' && datum.kind==='corner'"}],"mark":{"type":"text","fontSize":24,"baseline":"middle","align":"center"},"encoding":{"x":{"field":"x","type":"quantitative","scale":{"domain":[-0.0564,1.0272],"nice":false,"zero":false},"axis":null},"y":{"field":"y","type":"quantitative","scale":{"domain":[-0.1611,1.179],"nice":false,"zero":false},"axis":null},"text":{"field":"t"}}},
{"data":{"name":"txt"},"transform":[{"filter":"datum.site==='Huelva' && datum.kind==='ann'"}],"mark":{"type":"text","fontSize":24,"baseline":"middle","align":"left"},"encoding":{"x":{"field":"x","type":"quantitative","scale":{"domain":[-0.0564,1.0272],"nice":false,"zero":false},"axis":null},"y":{"field":"y","type":"quantitative","scale":{"domain":[-0.1611,1.179],"nice":false,"zero":false},"axis":null},"text":{"field":"t"}}},
{"data":{"name":"txt"},"transform":[{"filter":"datum.site==='Huelva' && datum.kind==='title'"}],"mark":{"type":"text","fontSize":32,"fontWeight":"bold","baseline":"middle","align":"center"},"encoding":{"x":{"field":"x","type":"quantitative","scale":{"domain":[-0.0564,1.0272],"nice":false,"zero":false},"axis":null},"y":{"field":"y","type":"quantitative","scale":{"domain":[-0.1611,1.179],"nice":false,"zero":false},"axis":null},"text":{"field":"t"}}},
{"data":{"name":"uline"},"transform":[{"filter":"datum.site==='Huelva'"}],"mark":{"type":"rule","color":"black","strokeWidth":3},"encoding":{"x":{"field":"x","type":"quantitative","scale":{"domain":[-0.0564,1.0272],"nice":false,"zero":false},"axis":null},"y":{"field":"y","type":"quantitative","scale":{"domain":[-0.1611,1.179],"nice":false,"zero":false},"axis":null},"x2":{"field":"x2"}}}
]},
{"width":558,"height":599,"layer":[
{"data":{"name":"grid"},"mark":{"type":"rule","color":"#8a8a8a","strokeWidth":1.1,"strokeDash":[2,2]},"encoding":{"x":{"field":"x","type":"quantitative","scale":{"domain":[-0.0664,1.0234],"nice":false,"zero":false},"axis":null},"y":{"field":"y","type":"quantitative","scale":{"domain":[-0.1611,1.179],"nice":false,"zero":false},"axis":null},"x2":{"field":"x2"},"y2":{"field":"y2"}}},
{"data":{"name":"inner"},"mark":{"type":"rule","color":"black","strokeWidth":1.8,"strokeDash":[7,4]},"encoding":{"x":{"field":"x","type":"quantitative","scale":{"domain":[-0.0664,1.0234],"nice":false,"zero":false},"axis":null},"y":{"field":"y","type":"quantitative","scale":{"domain":[-0.1611,1.179],"nice":false,"zero":false},"axis":null},"x2":{"field":"x2"},"y2":{"field":"y2"}}},
{"data":{"name":"outer"},"mark":{"type":"rule","color":"black","strokeWidth":2.2,"strokeCap":"round"},"encoding":{"x":{"field":"x","type":"quantitative","scale":{"domain":[-0.0664,1.0234],"nice":false,"zero":false},"axis":null},"y":{"field":"y","type":"quantitative","scale":{"domain":[-0.1611,1.179],"nice":false,"zero":false},"axis":null},"x2":{"field":"x2"},"y2":{"field":"y2"}}},
{"data":{"name":"pts"},"transform":[{"filter":"datum.site==='Llodio'"}],"mark":{"type":"circle"},"encoding":{"x":{"field":"x","type":"quantitative","scale":{"domain":[-0.0664,1.0234],"nice":false,"zero":false},"axis":null},"y":{"field":"y","type":"quantitative","scale":{"domain":[-0.1611,1.179],"nice":false,"zero":false},"axis":null}}},
{"data":{"name":"txt"},"transform":[{"filter":"datum.site==='Llodio' && datum.kind==='corner'"}],"mark":{"type":"text","fontSize":24,"baseline":"middle","align":"center"},"encoding":{"x":{"field":"x","type":"quantitative","scale":{"domain":[-0.0664,1.0234],"nice":false,"zero":false},"axis":null},"y":{"field":"y","type":"quantitative","scale":{"domain":[-0.1611,1.179],"nice":false,"zero":false},"axis":null},"text":{"field":"t"}}},
{"data":{"name":"txt"},"transform":[{"filter":"datum.site==='Llodio' && datum.kind==='ann'"}],"mark":{"type":"text","fontSize":24,"baseline":"middle","align":"left"},"encoding":{"x":{"field":"x","type":"quantitative","scale":{"domain":[-0.0664,1.0234],"nice":false,"zero":false},"axis":null},"y":{"field":"y","type":"quantitative","scale":{"domain":[-0.1611,1.179],"nice":false,"zero":false},"axis":null},"text":{"field":"t"}}},
{"data":{"name":"txt"},"transform":[{"filter":"datum.site==='Llodio' && datum.kind==='title'"}],"mark":{"type":"text","fontSize":32,"fontWeight":"bold","baseline":"middle","align":"center"},"encoding":{"x":{"field":"x","type":"quantitative","scale":{"domain":[-0.0664,1.0234],"nice":false,"zero":false},"axis":null},"y":{"field":"y","type":"quantitative","scale":{"domain":[-0.1611,1.179],"nice":false,"zero":false},"axis":null},"text":{"field":"t"}}},
{"data":{"name":"uline"},"transform":[{"filter":"datum.site==='Llodio'"}],"mark":{"type":"rule","color":"black","strokeWidth":3},"encoding":{"x":{"field":"x","type":"quantitative","scale":{"domain":[-0.0664,1.0234],"nice":false,"zero":false},"axis":null},"y":{"field":"y","type":"quantitative","scale":{"domain":[-0.1611,1.179],"nice":false,"zero":false},"axis":null},"x2":{"field":"x2"}}}
]}
]
}
